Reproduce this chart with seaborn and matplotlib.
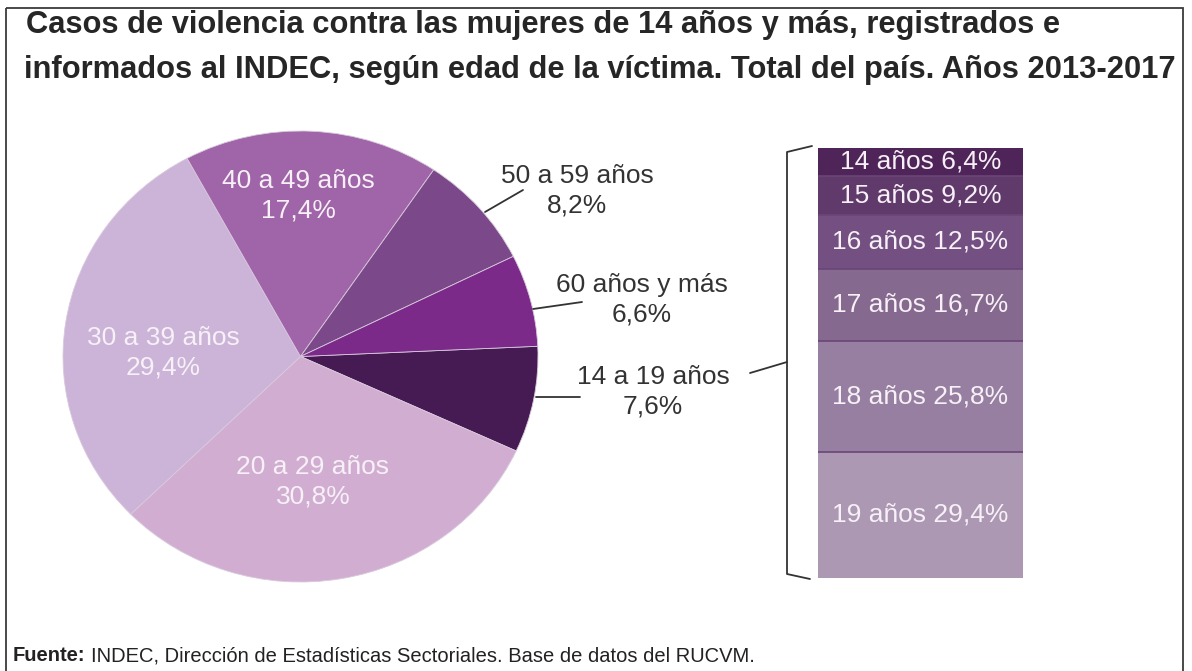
import matplotlib
matplotlib.use("Agg")
import matplotlib.pyplot as plt
import seaborn as sns
import numpy as np
from matplotlib.patches import Rectangle

# Datos
age_groups = ["14 a 19 años", "20 a 29 años", "30 a 39 años",
              "40 a 49 años", "50 a 59 años", "60 años y más"]
shares = [7.6, 30.8, 29.4, 17.4, 8.2, 6.6]
pie_colors = ["#461a52", "#d1aed1", "#cbb4d8", "#a064a8", "#7b4889", "#7b2a8a"]

teen_ages = ["14 años", "15 años", "16 años", "17 años", "18 años", "19 años"]
teen_shares = [6.4, 9.2, 12.5, 16.7, 25.8, 29.4]
bar_colors = ["#4f2459", "#5f3a6a", "#735081", "#85698f", "#967fa0", "#ac98b3"]

def fmt(v):
    return f"{v:.1f}".replace(".", ",") + "%"

sns.set_theme(style="white")
plt.rcParams["font.family"] = ["Liberation Sans", "DejaVu Sans"]

W, H = 1192, 671
fig = plt.figure(figsize=(W / 100, H / 100), dpi=100)

# Torta (ligeramente elíptica como en la imagen)
cx, cy, rx, ry = 300.5, 356.5, 237.5, 225.5
ax_pie = fig.add_axes([(cx - rx) / W, (H - cy - ry) / H, 2 * rx / W, 2 * ry / H])
ax_pie.pie(shares, colors=pie_colors, startangle=2.6, counterclock=False,
           radius=1, wedgeprops=dict(linewidth=0.6, edgecolor="#d9c9dd"))
ax_pie.set_xlim(-1, 1)
ax_pie.set_ylim(-1, 1)
ax_pie.set_aspect("auto")

def px_to_pie(x, y):
    return (x - cx) / rx, (cy - y) / ry

label_fs = 19
inner = {"40 a 49 años": (298, 196), "30 a 39 años": (163, 353),
         "20 a 29 años": (313, 482)}
for name, (x, y) in inner.items():
    v = shares[age_groups.index(name)]
    px, py = px_to_pie(x, y)
    ax_pie.text(px, py, f"{name}\n{fmt(v)}", ha="center", va="center",
                color="#f7f0f7", fontsize=label_fs, linespacing=1.28)

# Barra apilada 14-19 años
bx0, bx1, by0, by1 = 818, 1023, 148, 578
ax_bar = fig.add_axes([bx0 / W, (H - by1) / H, (bx1 - bx0) / W, (by1 - by0) / H])
bottoms = np.concatenate([[0], np.cumsum(teen_shares)[:-1]])
ax_bar.bar([0.5] * len(teen_shares), teen_shares, bottom=bottoms, width=1,
           color=bar_colors, linewidth=0)
for b in bottoms[1:]:
    ax_bar.axhline(b, color="#6a4577", lw=1.2)
for name, v, b in zip(teen_ages, teen_shares, bottoms):
    ax_bar.text(0.5, b + v / 2, f"{name} {fmt(v)}", ha="center", va="center",
                color="#f7f0f7", fontsize=label_fs)
ax_bar.set_xlim(0, 1)
ax_bar.set_ylim(100, 0)
ax_bar.axis("off")

# Capa superior en píxeles: título, rótulos externos, líneas, marco
ov = fig.add_axes([0, 0, 1, 1], zorder=5)
ov.set_xlim(0, W)
ov.set_ylim(H, 0)
ov.axis("off")

ov.add_patch(Rectangle((6, 8), 1177, 720, fill=False, edgecolor="#3a3a3a", lw=1.3))

ov.text(26, 25, "Casos de violencia contra las mujeres de 14 años y más, registrados e",
        fontsize=22.2, fontweight="bold", color="#262626", va="center")
ov.text(24, 70, "informados al INDEC, según edad de la víctima. Total del país. Años 2013-2017",
        fontsize=22.2, fontweight="bold", color="#262626", va="center")

dark = "#333333"
outer = {"50 a 59 años": (577, 191), "60 años y más": (642, 300),
         "14 a 19 años": (653, 392)}
for name, (x, y) in outer.items():
    v = shares[age_groups.index(name)]
    ov.text(x, y, f"{name}\n{fmt(v)}", ha="center", va="center",
            color=dark, fontsize=label_fs, linespacing=1.28)

lines = [((485, 212), (523, 190)), ((533, 309), (582, 302)), ((536, 397), (580, 397)),
         ((750, 373), (787, 362))]
for (x0, y0), (x1, y1) in lines:
    ov.plot([x0, x1], [y0, y1], color=dark, lw=1.3)

# Llave
ov.plot([812, 787, 787, 810], [146, 152, 574, 579], color=dark, lw=1.3)

# Fuente
t = ov.text(13, 661, "Fuente:", fontsize=14.5, fontweight="bold", color="#222222",
            va="baseline")
fig.canvas.draw()
bb = t.get_window_extent()
ov.text(bb.x1 + 5, 661, "INDEC, Dirección de Estadísticas Sectoriales. Base de datos del RUCVM.",
        fontsize=14.5, color="#222222", va="baseline")

fig.savefig("out.png", dpi=100, facecolor="white")
